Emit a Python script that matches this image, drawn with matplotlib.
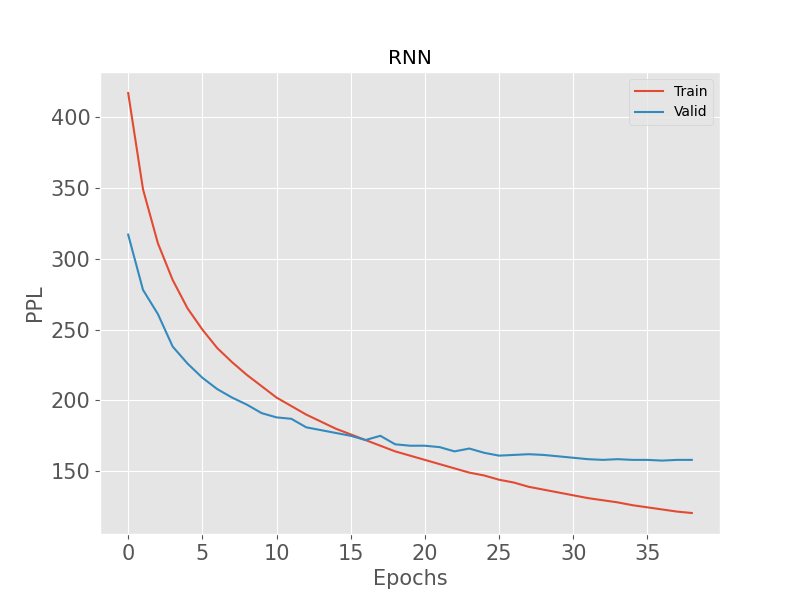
import matplotlib
matplotlib.use("Agg")
import matplotlib.pyplot as plt

plt.style.use("ggplot")

epochs = list(range(39))
train_ppl = [417, 349, 311, 285, 265, 250, 237, 227, 218, 210, 202, 196, 190, 185,
             180, 176, 172, 168, 164, 161, 158, 155, 152, 149, 147, 144, 142, 139,
             137, 135, 133, 131, 129.5, 128, 126, 124.5, 123, 121.5, 120.5]
valid_ppl = [317, 278, 261, 238, 226, 216, 208, 202, 197, 191, 188, 187, 181, 179,
             177, 175, 172, 175, 169, 168, 168, 167, 164, 166, 163, 161, 161.5, 162,
             161.5, 160.5, 159.5, 158.5, 158, 158.5, 158, 158, 157.5, 158, 158]

fig, ax = plt.subplots(figsize=(8, 6), dpi=100)
ax.plot(epochs, train_ppl, label="Train")
ax.plot(epochs, valid_ppl, label="Valid")
ax.set_title("RNN")
ax.set_xlabel("Epochs", fontsize=15)
ax.set_ylabel("PPL", fontsize=15)
ax.tick_params(labelsize=15)
ax.legend()
fig.savefig("out.png")
